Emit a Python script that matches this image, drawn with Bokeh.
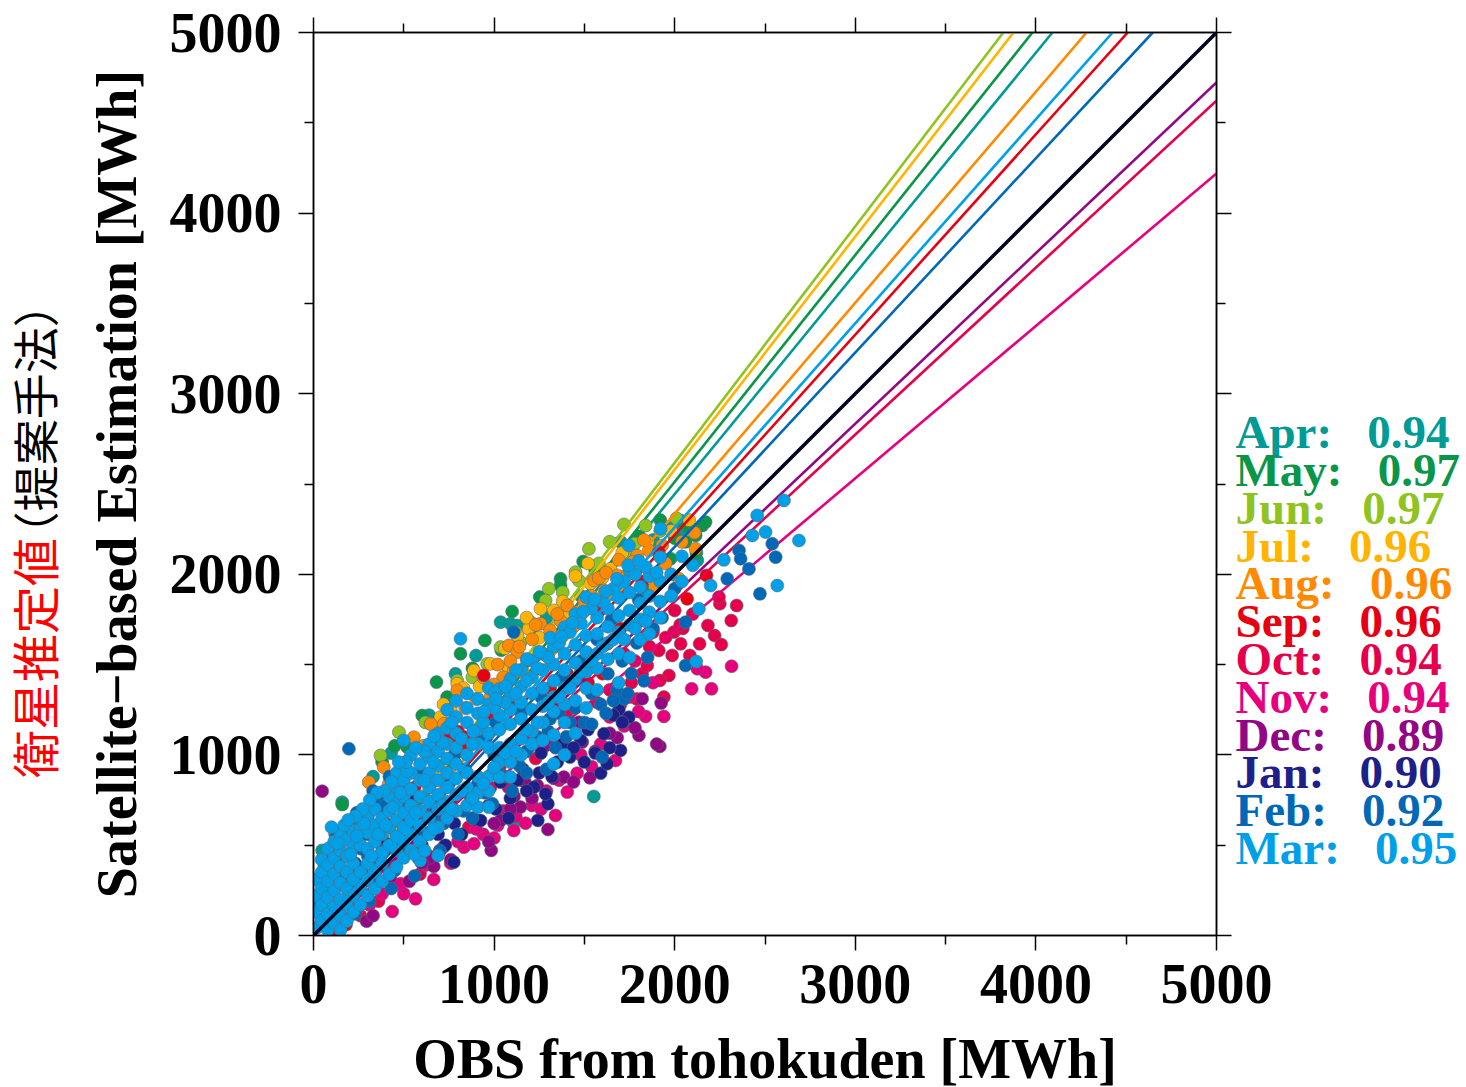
from bokeh.plotting import figure
from bokeh.embed import file_html
from bokeh.resources import INLINE
from bokeh.layouts import row
from bokeh.core.properties import value
from bokeh.models import LinearAxis, FixedTicker, Range1d
import math

APR = [(1552,770),(1036,1735),(1091,1726),(786,1449),(430,1010),(159,738),(2125,2077),(1959,2261),(1109,622),(48,471),
       (759,1301),(1128,1717),(1880,2190),(1700,2180),(1480,1880),(1290,1760),(900,1550),(640,1220),(520,1060),(330,880),
       (250,620),(120,560),(60,380),(40,230),(2040,2240)]
MAY = [(1493,2071),(1368,1975),(1368,1938),(1253,1874),(1100,1794),(949,1634),(814,1560),(681,1403),(602,1218),(2152,2270),
       (2171,2289),(2116,2215),(2033,2298),(159,725),(519,1043),(1848,1911),(1977,2086),(1700,2090),(1800,2210),(1920,2300),
       (2060,2180),(1560,2020),(1210,1700),(1040,1580),(880,1480),(740,1320),(450,1050),(380,960),(2000,2200),(2120,2120),(2080,2260)]
JUN = [(1525,2141),(1451,2012),(1469,1966),(1303,1920),(1285,1855),(1719,2276),(1839,2270),(1146,1624),(962,1504),(371,997),
       (473,1126),(713,1135),(796,1412),(1746,2095),(1036,1597),(1202,1735),(1640,2180),(1380,1900),(1120,1680),(880,1430),
       (620,1180),(1920,2240),(1580,2060),(1780,2170),(2010,2310)]
JUL = [(888,1467),(648,1172),(703,1209),(980,1504),(1192,1698),(1257,1809),(1331,1800),(1534,1948),(1645,2030),(796,1394),
       (1450,1990),(1130,1660),(1060,1590),(720,1280),(830,1370),(1380,1850),(1600,1980),(1710,2120),(1850,2180),(1980,2240),
       (1250,1650),(1080,1480),(920,1380),(760,1250),(1520,2060),(2080,2300),(1780,2040),(1180,1760),(1400,1760),(1910,2120)]
AUG = [(306,849),(417,840),(556,1098),(722,1172),(796,1357),(1082,1606),(1128,1569),(1109,1467),(980,1320),(1405,1827),
       (1257,1726),(1331,1597),(1553,1966),(1682,1994),(1792,2104),(2023,1975),(2116,2141),(1857,2132),(389,932),(1460,1790),
       (1610,1910),(1720,1930),(1180,1530),(1050,1430),(900,1310),(840,1260),(1210,1640),(1370,1740),(1500,1850),(1660,1890),
       (1740,2000),(1880,1990),(1950,2060),(2040,2180),(2110,2230),(1830,2190),(1690,2080),(1540,1880),(1270,1560),(650,1170),
       (610,1050),(1000,1390),(1090,1520),(1160,1460),(1890,1930),(1310,1690),(1440,1710),(1580,1980),(940,1430),(1020,1500),
       (1140,1600),(1230,1720),(1350,1780),(1620,2010),(1770,2070),(1930,2160)]
SEP = [(2069,1864),(2176,1994),(777,1108),(814,1080),(971,1200),(943,1440),(1497,1449),(1405,1449),(1626,1615),(1571,1800),
       (1912,2123),(1220,1098),(770,1070),(800,1130),(830,1100),(850,1060),(740,1090),(1360,1300),(1520,1400),(1700,1700),
       (1820,1960),(1310,1370),(1120,1000),(1030,930),(560,820),(400,620),(230,240),(100,20),(180,60),(1600,1450)]
OCT = [(2343,1827),(2313,1744),(2184,1717),(2250,1837),(2245,1874),(2221,1661),(2258,1611),(2138,1615),(2084,1551),(2033,1615),
       (1986,1551),(1968,1440),(1918,1412),(1940,1320),(1820,1449),(1848,1495),(1912,1578),(1996,1680),(2045,1700),(1760,1400),
       (1720,1560),(1640,1360),(1570,1290),(1470,1180),(1400,1220),(1330,1060),(1230,980),(1080,820),(980,820),(860,600),
       (720,490),(640,440),(590,340),(470,280),(360,190),(260,110),(1880,1680),(2000,1800),(2100,1780),(1780,1520),
       (1860,1600),(1950,1650),(2030,1720),(1790,1310),(1700,1280)]
NOV = [(565,203),(436,133),(666,310),(500,231),(1109,581),(1174,622),(1340,665),(1460,899),(1540,935),(2094,1366),
       (2204,1366),(2315,1491),(2171,1458),(2125,1477),(1940,1213),(1839,1213),(1672,969),(833,489),(888,508),(1405,794),
       (242,148),(482,286),(380,230),(620,390),(760,400),(940,560),(1020,610),(1210,720),(1290,800),(1480,1000),
       (1590,1060),(1720,1160),(1800,1240),(1880,1400),(1750,1320),(1640,1210),(160,100),(310,170),(700,470),(1050,690),
       (1120,660),(1000,540),(900,590),(800,520),(1360,860),(1260,700)]
DEC = [(48,799),(1918,1047),(1802,1108),(1925,1287),(1820,1311),(1682,1095),(1530,873),(1298,587),(984,471),(294,79),
       (666,382),(1036,637),(1146,711),(1488,1071),(1386,877),(1285,1052),(426,323),(1900,1060),(1780,1150),(1560,1020),
       (1640,1120),(1440,850),(1330,870),(1210,760),(1090,700),(970,520),(760,420),(640,430),(530,300),(330,110),
       (900,640),(1170,850),(1720,1190),(600,400),(1470,1180),(1000,620),(1110,770),(1240,830)]
JAN = [(1242,637),(1298,729),(1700,1025),(1590,899),(1626,951),(1691,1250),(1746,1209),(1608,1117),(1420,988),(1285,784),
       (1220,821),(925,637),(777,406),(1036,849),(1640,1040),(1560,1010),(1480,1080),(1380,1060),(1320,880),(1180,800),
       (1130,860),(1250,900),(1090,760),(970,720),(880,760),(780,620),(690,560),(600,500),(490,620),(400,510),
       (320,560),(230,400),(160,330),(1660,1220),(1710,1180),(1520,1140),(380,700),(300,660),(560,770),(660,740),
       (1260,1010),(1080,650),(1160,920),(1500,960),(1010,700),(930,800),(820,560),(730,500),(1350,960),(1440,1040)]
FEB = [(196,1034),(2540,2169),(2559,2095),(2411,2030),(2291,1975),(2472,1892),(2060,1735),(2060,1495),(2356,2132),(2365,2086),
       (1109,1680),(1599,988),(40,60),(30,180),(45,300),(55,420),(70,130),(90,240),(100,370),(110,500),
       (125,570),(140,60),(160,190),(170,300),(185,440),(200,550),(230,120),(240,250),(250,370),(265,480),
       (290,560),(310,190),(330,300),(350,420),(370,760),(400,720),(430,260),(450,360),(480,480),(520,800),
       (560,330),(580,430),(610,560),(640,1020),(680,1050),(700,470),(720,620),(780,1000),(800,560),(830,690),
       (880,650),(910,840),(960,1100),(990,730),(1020,930),(1080,1280),(1100,800),(1140,940),(1180,1020),(1240,1100),
       (1290,920),(1340,1040),(1360,1230),(1400,1100),(1450,1260),(1500,1180),(1540,1340),(1590,1280),(1630,1450),(1680,1360),
       (1710,1520),(1760,1450),(1790,1620),(1850,1540),(1880,1700),(1930,1760),(2000,1920),(1480,1520),(1380,1420),(1260,1320),
       (1150,1230),(1010,1180),(900,1120),(600,900),(500,700),(420,600),(300,440),(1650,1750),(1570,1640),(1800,1860),
       (750,840),(840,920),(1000,1000),(1310,1200),(1720,1310),(1830,1410),(1540,1170),(1620,1230),(1660,1300),(1740,1340),
       (1420,1180),(1300,1130),(1180,900),(1060,880),(950,790),(870,760),(770,700),(660,660),(560,600),(470,540),
       (380,470),(280,330),(210,330),(130,440),(190,620),(240,680),(330,800),(420,880),(510,960)]
MAR = [(814,1643),(2688,2187),(2568,1938),(2457,2326),(2430,2215),(2503,2234),(2272,2080),(2199,1938),(2134,1809),(2119,1517),
       (2605,2409),(1922,2252),(1746,2160),
       (15,40),(15,130),(15,220),(15,310),(45,80),(45,170),(45,260),(45,350),(45,420),(80,30),(80,120),(80,210),(80,300),(80,390),(80,480),
       (115,70),(115,160),(115,250),(115,340),(115,430),(115,520),(150,30),(150,110),(150,200),(150,290),(150,380),(150,470),(150,560),
       (185,80),(185,170),(185,260),(185,350),(185,440),(185,530),(220,130),(220,220),(220,310),(220,400),(220,490),(220,580),
       (260,170),(260,260),(260,350),(260,500),(260,590),(260,660),(300,220),(300,310),(300,400),(300,480),(300,570),(300,660),
       (340,260),(340,350),(340,520),(340,610),(340,700),(380,300),(380,400),(380,460),(380,560),(380,650),
       (420,340),(420,500),(420,600),(420,690),(420,770),(460,380),(460,470),(460,550),(460,640),(460,730),(460,820),(460,900),
       (500,430),(500,520),(500,600),(500,680),(500,770),(500,860),(500,1080),(540,470),(540,560),(540,640),(540,720),(540,810),(540,900),(540,1000),
       (590,415),(590,520),(590,610),(590,690),(590,770),(590,860),(590,950),(640,560),(640,650),(640,740),(640,820),(640,900),(640,990),(640,1060),
       (690,443),(690,600),(690,700),(690,780),(690,860),(690,940),(690,1020),(690,1120),(740,650),(740,740),(740,820),(740,900),(740,980),(740,1060),(740,1150),(740,1250),
       (790,690),(790,780),(790,870),(790,950),(790,1040),(790,1120),(790,1210),(790,1300),(850,720),(850,820),(850,900),(850,1000),(850,1180),(850,1260),(850,1340),
       (910,711),(910,790),(910,880),(910,1060),(910,1140),(910,1230),(910,1310),(970,711),(970,800),(970,880),(970,1040),(970,1120),(970,1280),(970,1370),
       (1030,877),(1030,960),(1030,1040),(1030,1140),(1030,1220),(1030,1366),(1090,877),(1090,960),(1090,1060),(1090,1170),(1090,1250),(1090,1330),(1090,1420),
       (1150,1000),(1150,1090),(1150,1200),(1150,1290),(1150,1380),(1150,1470),(1210,1060),(1210,1130),(1210,1250),(1210,1340),(1210,1430),(1210,1523),
       (1270,1080),(1270,1180),(1270,1270),(1270,1370),(1270,1470),(1270,1560),(1330,950),(1330,1110),(1330,1240),(1330,1320),(1330,1410),(1330,1500),(1330,1600),
       (1390,1000),(1390,1180),(1390,1280),(1390,1370),(1390,1470),(1390,1560),(1390,1707),(1450,1120),(1450,1300),(1450,1420),(1450,1510),(1450,1610),(1450,1780),
       (1510,1260),(1510,1370),(1510,1460),(1510,1570),(1510,1660),(1510,1874),(1570,1360),(1570,1480),(1570,1560),(1570,1670),(1570,1760),(1630,1530),(1630,1620),(1630,1710),(1630,1810),
       (1690,1400),(1690,1560),(1690,1680),(1690,1770),(1690,1870),(1750,1540),(1750,1720),(1750,1800),(1750,1900),(1750,2021),
       (1810,1640),(1810,1750),(1810,1840),(1810,1930),(1860,1670),(1860,1790),(1860,1880),(1860,1990),(1920,1760),(1920,1850),(1920,1960),(1920,2095),(1980,1880),(1980,2000),(2040,1960),(2040,2100),(2100,2050),
       (100,600),(135,510),(170,610),(205,450),(240,550),(280,620),(320,440),(360,560),(400,610),(440,710),(480,790),(520,910),(565,680),(615,860),(665,960),(715,1070),(765,1180),(820,1090),(880,1060),(940,1180),(1000,1260),(1060,1290),(1120,1340),(1180,1410),(1240,1480),(1300,1540),(1360,1620),(1420,1680),(1480,1730),(1540,1810),(1600,1850),(1660,1920),(1720,1960),(1780,2000),(1840,2040),(1900,2010),
       (560,450),(615,470),(665,590),(715,720),(765,700),(820,800),(880,760),(940,840),(1000,930),(1060,1010),(1120,1020),(1180,1140),(1240,1180),(1300,1290),(1360,1320),(1420,1370),(1480,1460),(1540,1520),(1600,1600),(1660,1640),(1720,1640),(1780,1700),(1840,1740),
       (885,1130),(945,1240),(1003,1345),(1012,1310),(1064,1380),(1122,1470),(1183,1530),(1251,1570),(1312,1650),(1372,1655),(1433,1732),(1494,1793),(1556,1862),(1618,1905),(1680,1975),(1742,2050),(1800,2075),
       (668,1105),(612,1020),(566,1040),(512,960),(472,960),(432,850),(392,800),(352,790),(312,750),(272,700),(232,660),(192,640)]

MONTHS = ["Apr", "May", "Jun", "Jul", "Aug", "Sep", "Oct", "Nov", "Dec", "Jan", "Feb", "Mar"]
SERIES = [APR, MAY, JUN, JUL, AUG, SEP, OCT, NOV, DEC, JAN, FEB, MAR]
CORR = ["0.94", "0.97", "0.97", "0.96", "0.96", "0.96", "0.94", "0.94", "0.89", "0.90", "0.92", "0.95"]
SLOPES = [1.222, 1.256, 1.309, 1.29, 1.168, 1.109, 0.9246, 0.8438, 0.9446, 1.0, 1.076, 1.13]
COLORS = ["#009B95", "#0A9648", "#8FC31F", "#FFB400", "#FF8A00", "#E60012",
          "#E6004C", "#E6007E", "#920783", "#1D2088", "#0068B7", "#00A0E9"]
TICKS = [0, 1000, 2000, 3000, 4000, 5000]
MINOR_TICKS = [500, 1500, 2500, 3500, 4500]

SERIF = "Liberation Serif"
CAPTION_W, LEGEND_W, TOTAL_H = 80, 231, 1087
FRAME_TOP, FRAME_BOTTOM = 32, 935


def text_panel(w, **kw):
    """A bare figure whose y units are the page's pixels (a row shares the main plot's frame height)."""
    f = figure(width=w, height=TOTAL_H, x_range=Range1d(0, w), y_range=Range1d(FRAME_BOTTOM, FRAME_TOP),
               x_axis_type=None, y_axis_type=None,
               output_backend="svg", toolbar_location=None, min_border=0, outline_line_color=None, **kw)
    f.grid.visible = False
    f.background_fill_alpha = 0
    f.border_fill_alpha = 0
    return f


p = figure(width=1192, height=TOTAL_H, frame_width=903, frame_height=903,
           x_range=Range1d(0, 5000), y_range=Range1d(0, 5000),
           output_backend="svg", toolbar_location=None,
           min_border_left=233, min_border_right=56, min_border_top=32, min_border_bottom=152,
           x_axis_location="below", y_axis_location="left")
p.grid.visible = False
p.outline_line_color = "black"
p.outline_line_width = 1.5
p.background_fill_color = "white"

p.add_layout(LinearAxis(), "right")
p.add_layout(LinearAxis(), "above")
blank = {t: "" for t in TICKS}
for ax in p.axis:
    ax.ticker = FixedTicker(ticks=TICKS, minor_ticks=MINOR_TICKS)
    ax.major_tick_out = 15
    ax.major_tick_in = 0
    ax.minor_tick_out = 9
    ax.minor_tick_in = 0
    ax.axis_line_color = "black"
    ax.axis_line_width = 1.5
    ax.major_tick_line_width = 1.5
    ax.minor_tick_line_width = 1.5
    ax.major_label_text_font = SERIF
    ax.major_label_text_font_style = "bold"
    ax.major_label_text_font_size = "56px"
    ax.major_label_text_color = "black"
p.right[0].major_label_overrides = blank
p.above[0].major_label_overrides = blank
p.below[0].major_label_standoff = 14
p.left[0].major_label_standoff = 17

p.below[0].axis_label = "OBS from tohokuden [MWh]"
p.left[0].axis_label = "Satellite\u2212based Estimation [MWh]"
for ax in (p.below[0], p.left[0]):
    ax.axis_label_text_font = SERIF
    ax.axis_label_text_font_style = "bold"
    ax.axis_label_text_font_size = "56px"
    ax.axis_label_text_color = "black"
p.below[0].axis_label_standoff = 22
p.left[0].axis_label_standoff = 19

for pts, slope, col in zip(SERIES, SLOPES, COLORS):
    p.scatter([a for a, _ in pts], [b for _, b in pts], marker="circle", size=13,
              fill_color=col, line_color="#5c6b78", line_width=0.6)
    end = min(5000, 5000 / slope)
    p.line([0, end], [0, end * slope], line_color=col, line_width=2.6)
p.line([0, 5000], [0, 5000], line_color="#05051e", line_width=3.4)

# coloured list of months and correlations; the panel slides over the plot's empty right margin
legend = text_panel(LEGEND_W, margin=(0, 0, 0, -37))
legend.text([0] * len(MONTHS), [434 + i * 38 for i in range(len(MONTHS))],
            text=[f"{m}:\u00a0\u00a0\u00a0{c}" for m, c in zip(MONTHS, CORR)],
            text_color=COLORS, text_font=value(SERIF), text_font_style="bold",
            text_font_size="47px", text_baseline="alphabetic", text_align="left")

# two-coloured vertical caption
caption = text_panel(CAPTION_W)
caption.text([32], [661], text=["衛星推定値"], angle=math.pi / 2, text_color="#FF0000",
             text_font=value("Noto Sans CJK JP"), text_font_size="48px",
             text_align="center", text_baseline="middle")
caption.text([32], [421], text=["（提案手法）"], angle=math.pi / 2, text_color="black",
             text_font=value("Noto Sans CJK JP"), text_font_size="46px",
             text_align="center", text_baseline="middle")

page = row(caption, p, legend, spacing=0)
open("out.html", "w").write(file_html(page, INLINE))
